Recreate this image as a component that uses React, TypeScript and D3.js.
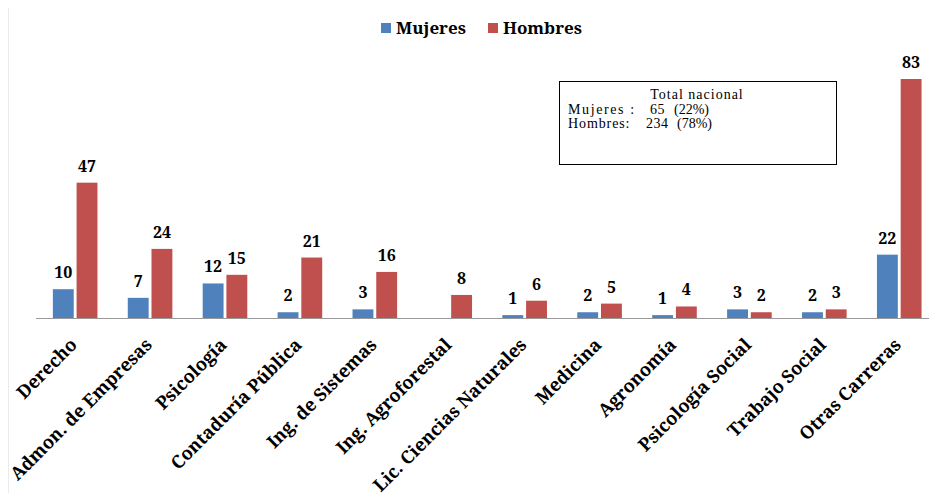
import { useEffect, useRef } from 'react';
import * as d3 from 'd3';

const categories = [
  'Derecho', 'Admon. de Empresas', 'Psicología', 'Contaduría Pública', 'Ing. de Sistemas',
  'Ing. Agroforestal', 'Lic. Ciencias Naturales', 'Medicina', 'Agronomía', 'Psicología Social',
  'Trabajo Social', 'Otras Carreras'
];
const mujeres = [10, 7, 12, 2, 3, 0, 1, 2, 1, 3, 2, 22];
const hombres = [47, 24, 15, 21, 16, 8, 6, 5, 4, 2, 3, 83];
const seriesNames = ['Mujeres', 'Hombres'];
const colors = ['#4f81bd', '#c0504d'];
const boxLabels = ['Mujeres :', 'Hombres:'];
const boxTotals = ['65', '234'];
const boxPercents = ['(22%)', '(78%)'];

const FONT = 'Noto Serif';
const BOX_FONT = 'Liberation Serif';

const App = () => {
  const svgRef = useRef<SVGSVGElement>(null);

  useEffect(() => {
    const svg = d3.select(svgRef.current);
    svg.selectAll('*').remove();

    const width = 942;
    const height = 501;
    const baseline = 318;

    svg.append('rect').attr('width', width).attr('height', height).attr('fill', '#fff');
    // chart border (top + left visible)
    svg.append('path')
      .attr('d', `M7.5,${height} L7.5,5.5 L${width},5.5`)
      .attr('fill', 'none').attr('stroke', '#b0b0b0').attr('stroke-width', 1.5);

    const x = d3.scaleBand<string>().domain(categories).range([37.7, 936.7]);
    const x1 = d3.scaleBand<string>().domain(seriesNames).range([0, 44.6]).paddingInner(0.12);
    const y = d3.scaleLinear().domain([0, 83]).range([baseline, 79]);

    const rows = categories.map((c, i) => ({ c, vals: [mujeres[i], hombres[i]] }));
    const groups = svg.selectAll('.grp').data(rows).enter().append('g')
      .attr('class', 'grp')
      .attr('transform', d => `translate(${x(d.c)! + (x.bandwidth() - 44.6) / 2},0)`);

    groups.selectAll('rect').data(d => d.vals.map((v, k) => ({ v, k }))).enter()
      .filter(d => d.v > 0)
      .append('rect')
      .attr('x', d => x1(seriesNames[d.k])!)
      .attr('y', d => y(d.v))
      .attr('width', x1.bandwidth())
      .attr('height', d => baseline - y(d.v))
      .attr('fill', d => colors[d.k]);

    groups.selectAll('text').data(d => d.vals.map((v, k) => ({ v, k }))).enter()
      .filter(d => d.v > 0)
      .append('text')
      .attr('x', d => x1(seriesNames[d.k])! + x1.bandwidth() / 2)
      .attr('y', d => y(d.v) - 11)
      .attr('text-anchor', 'middle')
      .attr('font-family', FONT).attr('font-weight', 'bold').attr('font-size', 16)
      .attr('fill', '#000')
      .text(d => d.v);

    // axis line
    svg.append('line')
      .attr('x1', 36).attr('x2', 929).attr('y1', baseline + 0.5).attr('y2', baseline + 0.5)
      .attr('stroke', '#999').attr('stroke-width', 1.2);

    // category labels
    svg.selectAll('.cat').data(categories).enter().append('text')
      .attr('class', 'cat')
      .attr('transform', d => `translate(${x(d)! + x.bandwidth() / 2 + 3},346) rotate(-45)`)
      .attr('text-anchor', 'end')
      .attr('font-family', FONT).attr('font-weight', 'bold').attr('font-size', 18)
      .attr('fill', '#000')
      .text(d => d);

    // legend
    const legend = [{ name: 'Mujeres', x: 381 }, { name: 'Hombres', x: 488 }];
    legend.forEach((l, i) => {
      svg.append('rect').attr('x', l.x).attr('y', 23).attr('width', 10).attr('height', 10).attr('fill', colors[i]);
      svg.append('text').attr('x', l.x + 15).attr('y', 34)
        .attr('font-family', FONT).attr('font-weight', 'bold').attr('font-size', 17)
        .text(l.name);
    });

    // summary box
    svg.append('rect').attr('x', 559.5).attr('y', 81.5).attr('width', 277).attr('height', 83)
      .attr('fill', '#fff').attr('stroke', '#000').attr('stroke-width', 1);
    svg.append('text').attr('x', 697).attr('y', 99).attr('text-anchor', 'middle')
      .attr('font-family', BOX_FONT).attr('font-size', 14).attr('letter-spacing', 1)
      .text('Total nacional');
    const lineY = (i: number) => 113.5 + i * 14.5;
    svg.selectAll('.boxlab').data(boxLabels).enter().append('text')
      .attr('class', 'boxlab')
      .attr('x', 568).attr('y', (_, i) => lineY(i))
      .attr('font-family', BOX_FONT).attr('font-size', 14)
      .attr('letter-spacing', (_, i) => i === 0 ? 1.6 : 0.9)
      .text(d => d);
    svg.selectAll('.boxtot').data(boxTotals).enter().append('text')
      .attr('class', 'boxtot')
      .attr('x', (_, i) => i === 0 ? 650 : 646).attr('y', (_, i) => lineY(i))
      .attr('font-family', BOX_FONT).attr('font-size', 14).attr('letter-spacing', 0.5)
      .text(d => d);
    svg.selectAll('.boxpct').data(boxPercents).enter().append('text')
      .attr('class', 'boxpct')
      .attr('x', (_, i) => i === 0 ? 674 : 677).attr('y', (_, i) => lineY(i))
      .attr('font-family', BOX_FONT).attr('font-size', 14)
      .text(d => d);
  }, []);

  return (
    <div style={{ margin: -8 }}>
      <svg ref={svgRef} width={942} height={501} style={{ display: 'block' }} />
    </div>
  );
};

export default App;
